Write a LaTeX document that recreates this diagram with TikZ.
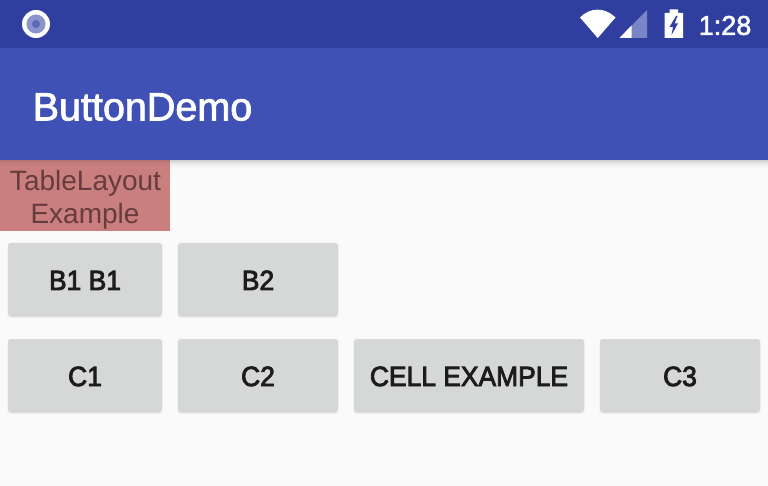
\documentclass[tikz,border=0pt]{standalone}
\usepackage{fontspec}
\setmainfont{Liberation Sans}
\newfontfamily\medfont[FakeBold=3,FakeStretch=0.95]{Liberation Sans}
\newfontfamily\titlefont[FakeBold=2]{Liberation Sans}
\definecolor{statusbar}{HTML}{303F9F}
\definecolor{appbar}{HTML}{3F51B5}
\definecolor{page}{HTML}{FAFAFA}
\definecolor{btn}{HTML}{D6D7D7}
\definecolor{btntext}{HTML}{1C1C1C}
\definecolor{labelbg}{HTML}{CA7F7F}
\definecolor{labeltext}{HTML}{663C3C}
\definecolor{ringmid}{HTML}{8A93CB}
\definecolor{ringcore}{HTML}{5C68B4}
\definecolor{signaldim}{HTML}{7B85C5}
\tikzset{
  btnbox/.style={fill=btn,rounded corners=2.5pt,inner sep=0,outer sep=0,anchor=north west,
    text=btntext,align=center,font=\medfont\fontsize{27.8}{30}\selectfont},
  labeltxt/.style={text=labeltext,font=\fontsize{28}{33}\selectfont,inner sep=0,anchor=center},
  softshadow/.style={fill=black,fill opacity=0.045,rounded corners=3pt}
}
\newcommand{\btn}[6]{% name x y w h text
  \foreach \d in {0,1,2,3}{
    \fill[softshadow] ({#2+0.9-\d*0.5},{#3+1.5-\d*0.3}) rectangle ({#2+#4-0.9+\d*0.5},{#3+#5+0.5+\d*0.8});
  }
  \node[btnbox,minimum width=#4pt,minimum height=#5pt] (#1) at (#2,#3) {\raisebox{-11pt}[0pt][0pt]{#6}};
}
\begin{document}
\begin{tikzpicture}[x=1pt,y=-1pt]
\useasboundingbox (0,0) rectangle (768,486);
\fill[page] (0,0) rectangle (768,486);
% toolbar shadow
\foreach \i/\o in {0/0.17,1/0.13,2/0.10,3/0.075,4/0.055,5/0.04,6/0.025,7/0.015,8/0.01}{
  \fill[black,fill opacity=\o] (0,160+\i) rectangle (768,161+\i);
}
\fill[appbar] (0,48) rectangle (768,160);
\fill[statusbar] (0,0) rectangle (768,48);
% status icons
\fill[white] (36,24) circle (14);
\fill[ringmid] (36,24) circle (9.5);
\fill[ringcore] (36,24) circle (4);
% wifi
\fill[white] (580,17.5) .. controls (590,7) and (605,7) .. (615.5,17.5) -- (597.7,38) -- cycle;
% signal
\fill[signaldim] (647,10) -- (647,38) -- (619.5,38) -- cycle;
\fill[white] (631.5,25.5) -- (631.5,38) -- (619.5,38) -- cycle;
% battery
\fill[white] (664.5,13) -- (669.5,13) -- (669.5,9.5) -- (678,9.5) -- (678,13) -- (683,13) -- (683,38) -- (664.5,38) -- cycle;
\fill[statusbar] (676,16) -- (669.5,27) -- (673,27) -- (671.5,35) -- (678,23.5) -- (674.5,23.5) -- (677.5,16) -- cycle;
\node[text=white,inner sep=0,anchor=east,font=\titlefont\fontsize{27}{30}\selectfont] (clock) at (751.5,25.5) {1:28};
\node[text=white,inner sep=0,anchor=west,font=\titlefont\fontsize{39.5}{42}\selectfont] (title) at (32.5,107) {ButtonDemo};
% label
\fill[labelbg] (0,160) rectangle (170,231);
\foreach \i/\o in {0/0.12,1/0.08,2/0.05,3/0.03,4/0.02}{
  \fill[black,fill opacity=\o] (0,160+\i) rectangle (170,161+\i);
}
\node[labeltxt] (line1) at (85.5,183.5) {TableLayout};
\node[labeltxt] (line2) at (85,216) {Example};
% buttons
\btn{b1}{8}{243}{154}{72}{B1 B1}
\btn{b2}{178}{243}{160}{72}{B2}
\btn{c1}{8}{339}{154}{72}{C1}
\btn{c2}{178}{339}{160}{72}{C2}
\btn{cell}{354}{339}{230}{72}{CELL EXAMPLE}
\btn{c3}{600}{339}{160}{72}{C3}
\end{tikzpicture}
\end{document}
